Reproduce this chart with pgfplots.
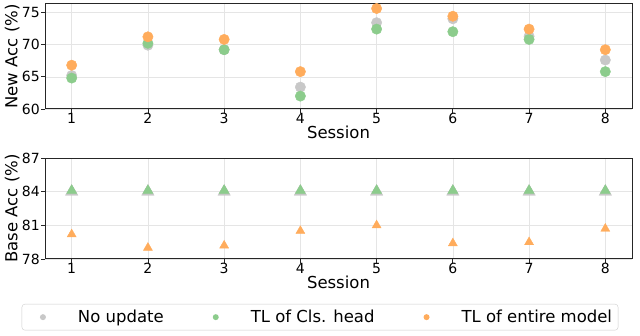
\documentclass[border=0pt]{standalone}
\usepackage{pgfplots}
\pgfplotsset{compat=1.18}
\usepackage{fontspec}
\setmainfont{DejaVu Sans}

\definecolor{ngray}{RGB}{200,200,200}
\definecolor{ngreen}{RGB}{140,204,140}
\definecolor{norange}{RGB}{255,172,92}

\pgfplotsset{
  accpanel/.style={
    scale only axis, width=587pt,
    xmin=0.65, xmax=8.35, xtick={1,...,8},
    axis line style={black!85, line width=1pt},
    tick align=outside, tick pos=left, major tick length=4pt,
    tick style={black!85, line width=0.8pt},
    grid=major, grid style={black!10, line width=0.5pt},
    /pgf/number format/assume math mode=true,
    ticklabel style={font=\fontsize{14}{16}\selectfont, inner sep=1pt},
    xticklabel style={yshift=1pt},
    label style={font=\fontsize{16.5}{19}\selectfont},
    xlabel={Session},
    x label style={at={(axis description cs:0.5,0)}, anchor=north, inner sep=0pt, yshift=-17pt},
    y label style={at={(axis description cs:-0.056,0.5)}, anchor=center, inner sep=0pt},
  }
}

\begin{document}
\begin{tikzpicture}
\path (0pt,0pt) rectangle (640pt,336pt);

% new classes
\begin{axis}[accpanel, at={(45pt,227pt)}, anchor=south west, height=105pt,
  ymin=60, ymax=76.3, ytick={60,65,70,75}, ylabel={New Acc (\%)}]
\addplot[only marks, mark=*, mark size=5.2pt, color=ngray] coordinates {
  (1,65.2) (2,69.9) (3,69.2) (4,63.4) (5,73.4) (6,74.0) (7,71.3) (8,67.6)};
\addplot[only marks, mark=*, mark size=5.2pt, color=ngreen] coordinates {
  (1,64.8) (2,70.2) (3,69.2) (4,62.0) (5,72.4) (6,72.0) (7,70.8) (8,65.8)};
\addplot[only marks, mark=*, mark size=5.2pt, color=norange] coordinates {
  (1,66.8) (2,71.2) (3,70.8) (4,65.8) (5,75.6) (6,74.4) (7,72.4) (8,69.2)};
\end{axis}

% base classes
\begin{axis}[accpanel, at={(45pt,77pt)}, anchor=south west, height=101pt,
  ymin=78, ymax=87, ytick={78,81,84,87}, ylabel={Base Acc (\%)},
  legend columns=3,
  legend style={at={(0.4685,-0.445)}, anchor=north, draw=black!20, rounded corners=3pt,
    inner sep=1pt, font=\fontsize{16.5}{19}\selectfont,
    nodes={inner sep=5pt},
    /tikz/every even column/.append style={column sep=27pt}}]
\addlegendimage{legend image code/.code={\path[draw=none] (0pt,-3pt) rectangle (50pt,3pt); \fill[ngray, draw=none] (20pt,0pt) circle (3pt);}}
\addlegendentry{No update}
\addlegendimage{legend image code/.code={\path[draw=none] (0pt,-3pt) rectangle (50pt,3pt); \fill[ngreen, draw=none] (20pt,0pt) circle (3pt);}}
\addlegendentry{TL of Cls. head}
\addlegendimage{legend image code/.code={\path[draw=none] (0pt,-3pt) rectangle (50pt,3pt); \fill[norange, draw=none] (20pt,0pt) circle (3pt);}}
\addlegendentry{TL of entire model}
\addplot[forget plot, only marks, mark=triangle*, mark size=7.2pt, color=ngray] coordinates {
  (1,84.0) (2,84.0) (3,84.0) (4,84.0) (5,84.0) (6,84.0) (7,84.0) (8,84.0)};
\addplot[forget plot, only marks, mark=triangle*, mark size=5.8pt, color=ngreen] coordinates {
  (1,84.1) (2,84.1) (3,84.1) (4,84.1) (5,84.1) (6,84.1) (7,84.1) (8,84.1)};
\addplot[forget plot, only marks, mark=triangle*, mark size=5.2pt, color=norange] coordinates {
  (1,80.2) (2,79.0) (3,79.2) (4,80.5) (5,81.0) (6,79.4) (7,79.5) (8,80.7)};
\end{axis}
\end{tikzpicture}
\end{document}
